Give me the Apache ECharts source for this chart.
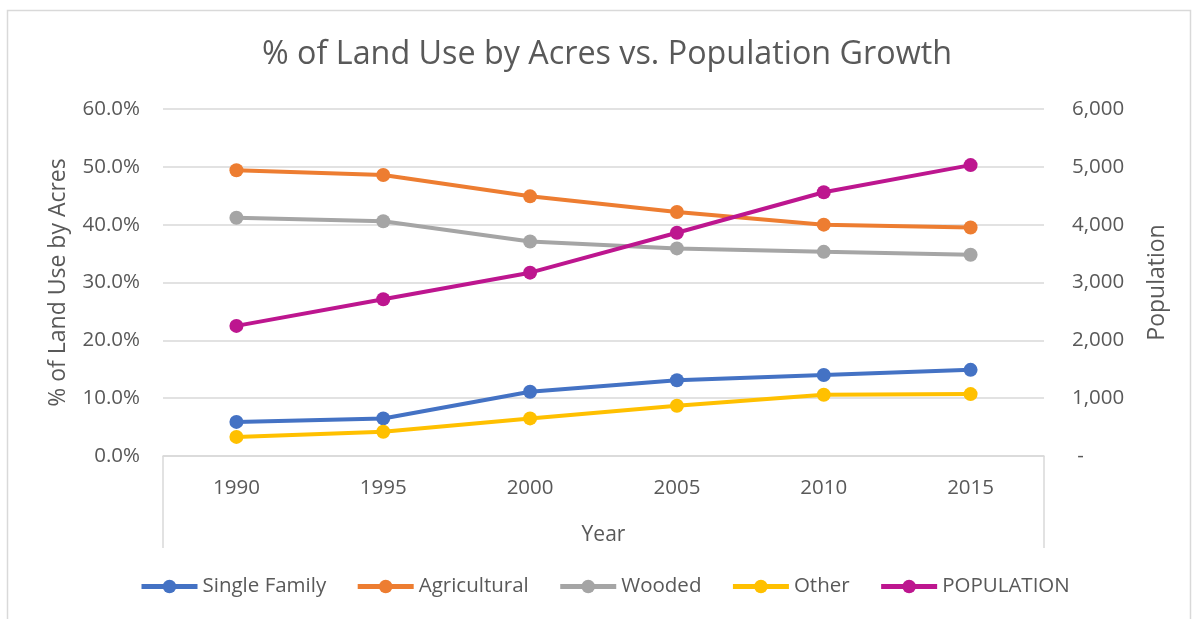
<!DOCTYPE html>
<html>
<head>
<meta charset="utf-8">
<script src="https://cdn.jsdelivr.net/npm/echarts@6/dist/echarts.min.js"></script>
<style>html,body{margin:0;padding:0;background:#fff}#c{width:1199px;height:619px}</style>
</head>
<body>
<div id="c"></div>
<script>
const years = ['1990','1995','2000','2005','2010','2015'];
const singleFamily = [5.9, 6.5, 11.1, 13.1, 14.0, 14.9];
const agricultural = [49.4, 48.6, 44.9, 42.2, 40.0, 39.5];
const wooded = [41.2, 40.6, 37.1, 35.9, 35.3, 34.8];
const other = [3.3, 4.2, 6.5, 8.7, 10.6, 10.7];
const population = [2250, 2710, 3170, 3860, 4560, 5030];
const leftTicks = [0, 10, 20, 30, 40, 50, 60];
const rightTicks = [0, 1000, 2000, 3000, 4000, 5000, 6000];

const FONT = 'Open Sans';
const TXT = '#595959';
const GRID = '#d9d9d9';

const chart = echarts.init(document.getElementById('c'), null, {renderer: 'canvas'});

function mk(name, data, color, yIdx) {
  return {
    name: name, type: 'line', data: data, yAxisIndex: yIdx,
    symbol: 'circle', symbolSize: 14,
    lineStyle: {width: 4, color: color},
    itemStyle: {color: color},
    emphasis: {disabled: true},
    animation: false
  };
}

const gridLeft = 163, gridRight = 155, gridTop = 109, gridBottom = 163;
const W = 1199, H = 619;

chart.setOption({
  backgroundColor: '#fff',
  animation: false,
  title: {
    text: '% of Land Use by Acres vs. Population Growth',
    left: 257, top: 34,
    textStyle: {fontFamily: FONT, fontSize: 32.3, fontWeight: 'normal', color: TXT}
  },
  legend: {
    bottom: 17, left: 134,
    itemWidth: 56, itemHeight: 17, itemGap: 29,
    lineStyle: {width: 5},
    textStyle: {fontFamily: FONT, fontSize: 20.5, color: TXT},
    data: ['Single Family', 'Agricultural', 'Wooded', 'Other', 'POPULATION']
  },
  grid: {left: gridLeft, right: gridRight, top: gridTop, bottom: gridBottom, containLabel: false},
  xAxis: {
    type: 'category', data: years, boundaryGap: true,
    name: 'Year', nameLocation: 'middle', nameGap: 69,
    nameTextStyle: {fontFamily: FONT, fontSize: 21, color: TXT},
    axisLine: {lineStyle: {color: GRID, width: 1.5}},
    axisTick: {show: false},
    axisLabel: {fontFamily: FONT, fontSize: 20.5, color: TXT, margin: 22}
  },
  yAxis: [{
    type: 'value', min: leftTicks[0], max: leftTicks[leftTicks.length - 1], interval: 10, position: 'left',
    name: '% of Land Use by Acres', nameLocation: 'middle', nameGap: 93,
    nameTextStyle: {fontFamily: FONT, fontSize: 23, color: TXT},
    axisLine: {show: false}, axisTick: {show: false},
    axisLabel: {fontFamily: FONT, fontSize: 20.5, color: TXT, margin: 23,
      formatter: v => v.toFixed(1) + '%'},
    splitLine: {lineStyle: {color: GRID, width: 1.5}}
  }, {
    type: 'value', min: rightTicks[0], max: rightTicks[rightTicks.length - 1], interval: 1000, position: 'right',
    name: 'Population', nameLocation: 'middle', nameGap: 102,
    nameTextStyle: {fontFamily: FONT, fontSize: 23, color: TXT},
    axisLine: {show: false}, axisTick: {show: false},
    axisLabel: {fontFamily: FONT, fontSize: 20.5, color: TXT, margin: 28,
      formatter: v => v === 0 ? ' -' : v.toLocaleString('en-US')},
    splitLine: {show: false}
  }],
  graphic: [
    {type: 'rect', shape: {x: 7.5, y: 10.5, width: 1183, height: 640}, style: {fill: 'none', stroke: GRID, lineWidth: 1.5}, silent: true},
    {type: 'line', shape: {x1: gridLeft, y1: H - gridBottom, x2: gridLeft, y2: 548}, style: {stroke: GRID, lineWidth: 1.5}, silent: true},
    {type: 'line', shape: {x1: W - gridRight, y1: H - gridBottom, x2: W - gridRight, y2: 548}, style: {stroke: GRID, lineWidth: 1.5}, silent: true}
  ],
  series: [
    mk('Single Family', singleFamily, '#4472C4', 0),
    mk('Agricultural', agricultural, '#ED7D31', 0),
    mk('Wooded', wooded, '#A5A5A5', 0),
    mk('Other', other, '#FFC000', 0),
    mk('POPULATION', population, '#BD168F', 1)
  ]
});
</script>
</body>
</html>
